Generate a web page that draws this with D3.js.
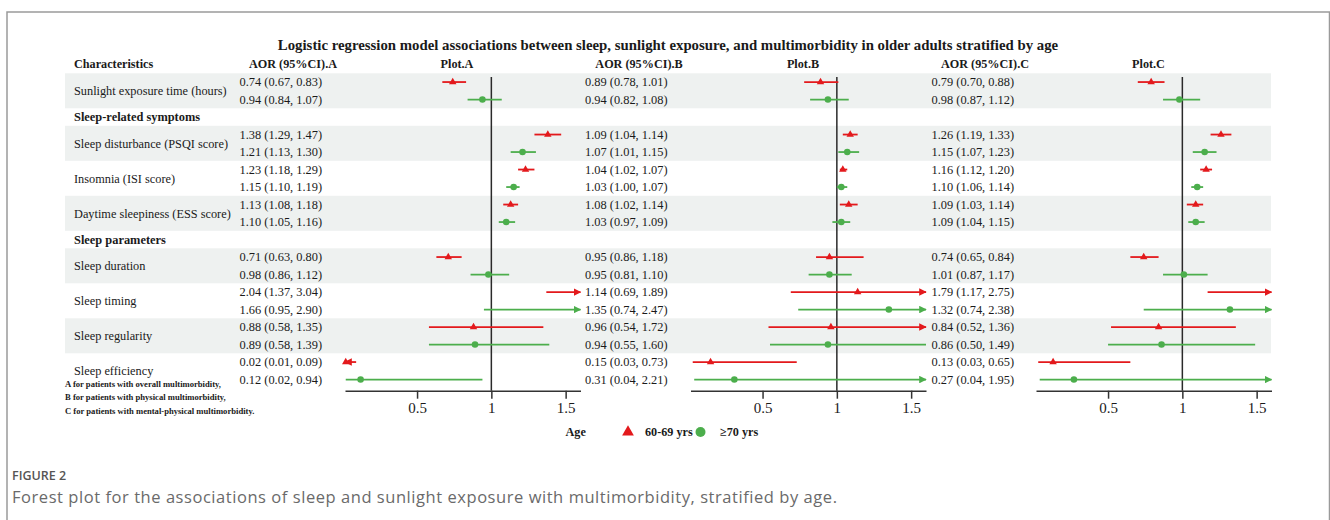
<!DOCTYPE html>
<html>
<head>
<meta charset="utf-8">
<script src="https://cdn.jsdelivr.net/npm/d3@7"></script>
<style>
body { margin: 0; background: #fff; }
svg text { font-family: "Liberation Serif", "Times New Roman", serif; fill: #1a1a1a; }
</style>
</head>
<body>
<div id="chart"></div>
<script>
// ---- data ----
const sectionTitles = ['', 'Sleep-related symptoms', 'Sleep parameters'];
const variableNames = [
    'Sunlight exposure time (hours)',
    'Sleep disturbance (PSQI score)',
    'Insomnia (ISI score)',
    'Daytime sleepiness (ESS score)',
    'Sleep duration',
    'Sleep timing',
    'Sleep regularity',
    'Sleep efficiency'
];
const variableSection = [0, 1, 1, 1, 2, 2, 2, 2];
const groups = ['60-69 yrs', '≥70 yrs'];
const panelNames = ['A', 'B', 'C'];

// [AOR, lower, upper]
const aorA_6069 = [[0.74, 0.67, 0.83], [1.38, 1.29, 1.47], [1.23, 1.18, 1.29], [1.13, 1.08, 1.18],
                   [0.71, 0.63, 0.80], [2.04, 1.37, 3.04], [0.88, 0.58, 1.35], [0.02, 0.01, 0.09]];
const aorA_70 = [[0.94, 0.84, 1.07], [1.21, 1.13, 1.30], [1.15, 1.10, 1.19], [1.10, 1.05, 1.16],
                 [0.98, 0.86, 1.12], [1.66, 0.95, 2.90], [0.89, 0.58, 1.39], [0.12, 0.02, 0.94]];
const aorB_6069 = [[0.89, 0.78, 1.01], [1.09, 1.04, 1.14], [1.04, 1.02, 1.07], [1.08, 1.02, 1.14],
                   [0.95, 0.86, 1.18], [1.14, 0.69, 1.89], [0.96, 0.54, 1.72], [0.15, 0.03, 0.73]];
const aorB_70 = [[0.94, 0.82, 1.08], [1.07, 1.01, 1.15], [1.03, 1.00, 1.07], [1.03, 0.97, 1.09],
                 [0.95, 0.81, 1.10], [1.35, 0.74, 2.47], [0.94, 0.55, 1.60], [0.31, 0.04, 2.21]];
const aorC_6069 = [[0.79, 0.70, 0.88], [1.26, 1.19, 1.33], [1.16, 1.12, 1.20], [1.09, 1.03, 1.14],
                   [0.74, 0.65, 0.84], [1.79, 1.17, 2.75], [0.84, 0.52, 1.36], [0.13, 0.03, 0.65]];
const aorC_70 = [[0.98, 0.87, 1.12], [1.15, 1.07, 1.23], [1.10, 1.06, 1.14], [1.09, 1.04, 1.15],
                 [1.01, 0.87, 1.17], [1.32, 0.74, 2.38], [0.86, 0.50, 1.49], [0.27, 0.04, 1.95]];

const xTicks = [0.5, 1, 1.5];
const xLimits = [0.015, 1.6];

const footnotes = [
    'A for patients with overall multimorbidity,',
    'B for patients with physical multimorbidity,',
    'C for patients with mental-physical multimorbidity.'
];

// ---- layout ----
const width = 1330, height = 520;
const colors = ['#e3191c', '#4cae4c'];
const panelData = [[aorA_6069, aorA_70], [aorB_6069, aorB_70], [aorC_6069, aorC_70]];
const textX = [239.5, 585, 931.5];      // AOR column start
const headAorX = [293, 639, 985];       // AOR header centre
const plotLeft = [345, 690.5, 1036];
const plotWidth = 235.5;
const plotHeadX = [457, 803, 1148.5];
const axisY = 390.7;

// build table rows
let rowIdx = 0;
const sectionRows = [];
const varRows = [];
sectionTitles.forEach((title, s) => {
    if (title) { sectionRows.push({ label: title, row: rowIdx }); rowIdx++; }
    variableNames.forEach((name, v) => {
        if (variableSection[v] !== s) return;
        const j = varRows.filter(d => variableSection[d.v] === s).length;
        varRows.push({ v: v, label: name, row: rowIdx, shaded: j % 2 === 0 });
        rowIdx += 2;
    });
});

const yScale = d3.scaleBand().domain(d3.range(rowIdx)).range([73.3, 388.3]);
const yMid = r => yScale(r) + yScale.bandwidth() / 2;

const svg = d3.select('#chart').append('svg')
    .attr('width', width).attr('height', height);

// arrow heads
const defs = svg.append('defs');
colors.forEach((c, i) => {
    defs.append('marker').attr('id', 'arrow' + i)
        .attr('viewBox', '0 0 10 10').attr('refX', 9).attr('refY', 5)
        .attr('markerWidth', 4.2).attr('markerHeight', 4.2)
        .attr('markerUnits', 'strokeWidth')
        .attr('orient', 'auto-start-reverse')
        .append('path').attr('d', 'M0,0 L10,5 L0,10 Z').attr('fill', c);
});

// frame
svg.append('path').attr('d', `M7,${height + 5} V12 H1329.5 V${height + 5}`)
    .attr('fill', 'none').attr('stroke', '#9a9a9a').attr('stroke-width', 1.5);

// shaded bands
svg.selectAll('.band').data(varRows.filter(d => d.shaded)).enter()
    .append('rect').attr('class', 'band')
    .attr('x', 65).attr('width', 1271 - 65)
    .attr('y', d => yScale(d.row)).attr('height', yScale.bandwidth() * 2)
    .attr('fill', '#eef1f0');

// title
svg.append('text').attr('x', 668).attr('y', 49.5).attr('text-anchor', 'middle')
    .style('font-size', '14.8px').style('font-weight', 'bold')
    .text('Logistic regression model associations between sleep, sunlight exposure, and multimorbidity in older adults stratified by age');

// header row
const head = svg.append('g').style('font-size', '12.2px').style('font-weight', 'bold');
head.append('text').attr('x', 74).attr('y', 67.5).text('Characteristics');
panelNames.forEach((p, i) => {
    head.append('text').attr('x', headAorX[i]).attr('y', 67.5).attr('text-anchor', 'middle').text(`AOR (95%CI).${p}`);
    head.append('text').attr('x', plotHeadX[i]).attr('y', 67.5).attr('text-anchor', 'middle').text(`Plot.${p}`);
});

// section titles and variable labels
svg.selectAll('.section').data(sectionRows).enter()
    .append('text').attr('class', 'section')
    .attr('x', 74).attr('y', d => yMid(d.row)).attr('dy', '0.35em')
    .style('font-size', '12.4px').style('font-weight', 'bold')
    .text(d => d.label);
svg.selectAll('.varlabel').data(varRows).enter()
    .append('text').attr('class', 'varlabel')
    .attr('x', 74).attr('y', d => yScale(d.row) + yScale.bandwidth()).attr('dy', '0.35em')
    .style('font-size', '12.3px')
    .text(d => d.label);

// footnotes
svg.selectAll('.foot').data(footnotes).enter()
    .append('text').attr('class', 'foot')
    .attr('x', 65).attr('y', (d, i) => 387 + i * 13.3)
    .style('font-size', '8.6px').style('font-weight', 'bold')
    .text(d => d);

const fmt = d3.format('.2f');

panelNames.forEach((p, pi) => {
    const x = d3.scaleLinear().domain(xLimits).range([plotLeft[pi], plotLeft[pi] + plotWidth]);
    const g = svg.append('g').attr('class', 'panel-' + p);

    // AOR text column
    varRows.forEach(r => {
        groups.forEach((grp, gi) => {
            const d = panelData[pi][gi][r.v];
            g.append('text').attr('x', textX[pi]).attr('y', yMid(r.row + gi)).attr('dy', '0.35em')
                .style('font-size', '12.4px')
                .text(`${fmt(d[0])} (${fmt(d[1])}, ${fmt(d[2])})`);
        });
    });

    // reference line at 1
    g.append('line').attr('x1', x(1)).attr('x2', x(1)).attr('y1', 77).attr('y2', axisY)
        .attr('stroke', '#2a2a2a').attr('stroke-width', 1.5);

    // CI lines and points
    varRows.forEach(r => {
        groups.forEach((grp, gi) => {
            const d = panelData[pi][gi][r.v];
            const yy = yMid(r.row + gi);
            const lo = Math.max(d[1], xLimits[0]);
            const hi = Math.min(d[2], xLimits[1]);
            const ln = g.append('line')
                .attr('x1', x(lo)).attr('x2', x(hi)).attr('y1', yy).attr('y2', yy)
                .attr('stroke', colors[gi]).attr('stroke-width', 1.8);
            if (d[2] > xLimits[1]) ln.attr('marker-end', `url(#arrow${gi})`);
            if (d[1] < xLimits[0]) ln.attr('marker-start', `url(#arrow${gi})`);
            if (d[0] >= xLimits[0] && d[0] <= xLimits[1]) {
                g.append('path')
                    .attr('d', d3.symbol().type(gi === 0 ? d3.symbolTriangle : d3.symbolCircle).size(gi === 0 ? 24 : 34)())
                    .attr('transform', `translate(${x(d[0])},${yy})`)
                    .attr('fill', colors[gi]);
            }
        });
    });

    // x axis
    const axis = g.append('g').attr('transform', `translate(0,${axisY})`)
        .call(d3.axisBottom(x).tickValues(xTicks).tickFormat(d3.format('')).tickSize(8).tickSizeOuter(0));
    axis.select('.domain').attr('stroke', '#333').attr('stroke-width', 1.5);
    axis.selectAll('.tick line').attr('stroke', '#333').attr('stroke-width', 1.5);
    axis.selectAll('.tick text').attr('y', 12).attr('dy', '0.71em')
        .style('font-size', '15px').style('font-family', '"Liberation Serif", serif').attr('fill', '#333');
});

// legend
const legend = svg.append('g').style('font-size', '12.2px').style('font-weight', 'bold');
legend.append('text').attr('x', 565.5).attr('y', 436).text('Age');
legend.append('path').attr('d', d3.symbol().type(d3.symbolTriangle).size(60)())
    .attr('transform', 'translate(628,432)').attr('fill', colors[0]);
legend.append('text').attr('x', 645).attr('y', 436).text(groups[0]);
legend.append('circle').attr('cx', 700.5).attr('cy', 432).attr('r', 5).attr('fill', colors[1]);
legend.append('text').attr('x', 720).attr('y', 436).text(groups[1]);

// figure caption
svg.append('text').attr('x', 12).attr('y', 480)
    .style('font-family', '"Open Sans", sans-serif').style('font-size', '12.5px').style('font-weight', 600)
    .style('fill', '#555')
    .text('FIGURE 2');
svg.append('text').attr('x', 12).attr('y', 503)
    .style('font-family', '"Open Sans", sans-serif').style('font-size', '16.5px')
    .style('letter-spacing', '0.55px')
    .style('fill', '#6a6a6a')
    .text('Forest plot for the associations of sleep and sunlight exposure with multimorbidity, stratified by age.');
</script>
</body>
</html>
